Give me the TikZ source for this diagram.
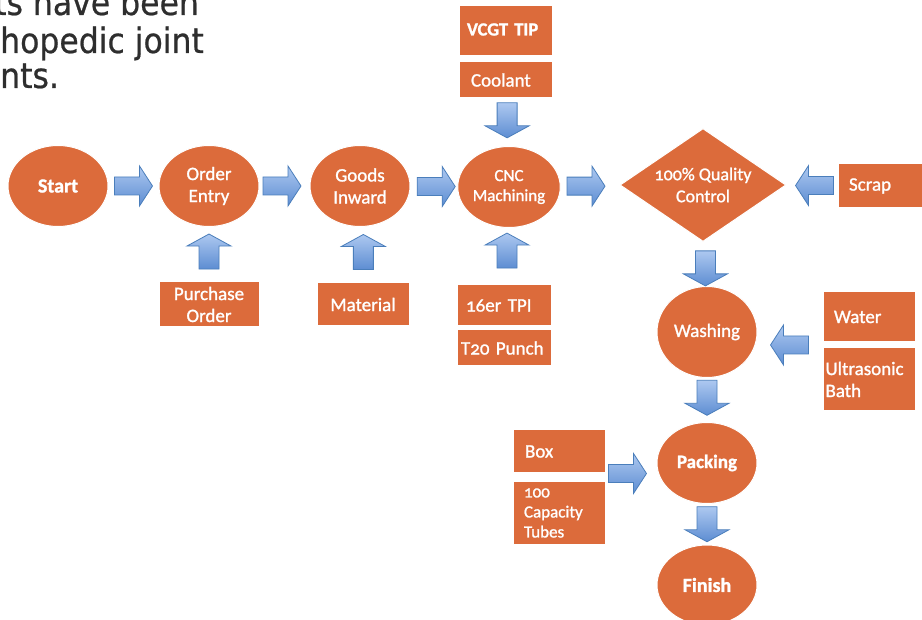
\documentclass[tikz,border=0pt]{standalone}
\usepackage{fontspec}
\setmainfont[Numbers=OldStyle]{Carlito}
\newfontfamily\calf[Numbers=OldStyle,FakeBold=1.2]{Carlito}
\newfontfamily\headfont[FakeBold=0.6]{DejaVu Sans Condensed}
\usetikzlibrary{shapes.geometric,calc}
\definecolor{orng}{HTML}{DC6B3B}
\definecolor{arrtop}{HTML}{ADC8F0}
\definecolor{arrbot}{HTML}{5D8DD2}
\definecolor{arredge}{HTML}{4A7EBB}
\definecolor{headgray}{HTML}{2E2E2E}
\newcommand\rblk[1]{\path[barrow] (#1) ++(-19,-9) -- ++(25,0) -- ++(0,-11) -- ++(13,20) -- ++(-13,20) -- ++(0,-11) -- ++(-25,0) -- cycle;}
\newcommand\lblk[1]{\path[barrow] (#1) ++(19,-9) -- ++(-25,0) -- ++(0,-11) -- ++(-13,20) -- ++(13,20) -- ++(0,-11) -- ++(25,0) -- cycle;}
\newcommand\dblk[1]{\path[barrow] (#1) ++(-10,-17.5) -- ++(20,0) -- ++(0,23) -- ++(12,0) -- ++(-22,12) -- ++(-22,-12) -- ++(12,0) -- cycle;}
\newcommand\ublk[1]{\path[barrow] (#1) ++(-10,17.5) -- ++(20,0) -- ++(0,-23) -- ++(12,0) -- ++(-22,-12) -- ++(-22,12) -- ++(12,0) -- cycle;}
\tikzset{
  every node/.style={font=\calf\fontsize{19}{22}\selectfont, text=white},
  oval/.style={ellipse, fill=orng, draw=white, line width=1pt, minimum width=100pt, minimum height=81pt, inner sep=0pt, align=center},
  qbox/.style={rectangle, fill=orng, draw=white, line width=1pt, inner sep=0pt},
  barrow/.style={draw=arredge, line width=0.8pt, top color=arrtop, bottom color=arrbot, line join=miter},
  headtxt/.style={anchor=base west, text=headgray, inner sep=0pt, font=\headfont\fontsize{35}{35}\selectfont},
}
\begin{document}
\begin{tikzpicture}[x=1pt,y=-1pt]
\useasboundingbox (0,0) rectangle (922,620);
\fill[white] (0,0) rectangle (922,620);
% heading fragment
\node[headtxt] (h1) at (-6,15) {ts have been};
\node[headtxt] (h2) at (0,53) {hopedic joint};
\node[headtxt] (h3) at (0,88) {nts.};
% main flow
\node[oval, font=\calf\bfseries\fontsize{20}{22}\selectfont] (start) at (58,186) {Start};
\node[oval] (order) at (209,186) {Order\\Entry};
\node[oval] (goods) at (360,186) {Goods\\Inward};
\node[oval, font=\calf\fontsize{17}{20}\selectfont] (cnc) at (509,187) {CNC\\Machining};
\node[diamond, aspect=1.47, fill=orng, draw=white, line width=1pt, inner sep=0pt, minimum width=166pt, minimum height=113pt, align=center, font=\calf\fontsize{18}{22}\selectfont] (qc) at (703,185) {100\% Quality\\Control};
\node[oval, minimum height=91pt] (wash) at (707,332) {Washing};
\node[oval, font=\calf\bfseries\fontsize{19}{22}\selectfont] (pack) at (707,463) {Packing};
\node[oval, minimum height=80pt, font=\calf\bfseries\fontsize{20}{22}\selectfont] (finish) at (707,585) {Finish};
% inputs
\node[qbox, minimum width=93pt, minimum height=50pt, text width=77pt, align=left, font=\calf\bfseries\fontsize{18.5}{22}\selectfont] (vcgt) at (505.5,31) {VCGT TIP\vphantom{g}};
\node[qbox, minimum width=93pt, minimum height=36pt, text width=69pt, align=left] (cool) at (505.5,80) {Coolant};
\node[qbox, minimum width=100pt, minimum height=45pt, align=center] (po) at (209,304.5) {Purchase\\Order};
\node[qbox, minimum width=92pt, minimum height=43pt, align=center] (mat) at (363,304.5) {Material};
\node[qbox, minimum width=94pt, minimum height=41pt, text width=76pt, align=left] (tpi) at (504,305.5) {16er TPI};
\node[qbox, minimum width=94pt, minimum height=36pt, text width=86pt, align=left] (punch) at (504,348) {T20 Punch};
\node[qbox, minimum width=92pt, minimum height=44pt, text width=70pt, align=left] (scrap) at (884,186) {Scrap};
\node[qbox, minimum width=92pt, minimum height=50pt, text width=70pt, align=left] (water) at (869,317) {Water};
\node[qbox, minimum width=92pt, minimum height=63pt, text width=87pt, align=left] (ultra) at (869,379.5) {Ultrasonic\\Bath};
\node[qbox, minimum width=92pt, minimum height=43pt, text width=68pt, align=left] (boxr) at (559,451.5) {Box};
\node[qbox, minimum width=92pt, minimum height=62pt, text width=70pt, align=left, font=\calf\fontsize{17}{20}\selectfont] (tubes) at (559,513) {100\\Capacity\\Tubes};
% block arrows
\rblk{$(start.east)!.5!(order.west)$}
\rblk{$(order.east)!.45!(goods.west)$}
\rblk{$(goods.east)!.55!(cnc.west)$}
\rblk{$(cnc.east)!.43!(qc.west)$}
\ublk{$(order.south)!.45!(po.north)$}
\ublk{$(goods.south)!.45!(mat.north)+(2,0)$}
\ublk{$(tpi.north)!.6!(cnc.south)$}
\dblk{$(cool.south)!.46!(cnc.north)$}
\lblk{$(scrap.west)!.45!(qc.east)$}
\dblk{$(qc.south)!.6!(wash.north)$}
\lblk{$(water.south west)!.5!(ultra.north west)+(-33,0)$}
\dblk{$(wash.south)!.45!(pack.north)$}
\rblk{$(boxr.south east)!.5!(tubes.north east)+(22,-4)$}
\dblk{$(pack.south)!.5!(finish.north)$}
\end{tikzpicture}
\end{document}
